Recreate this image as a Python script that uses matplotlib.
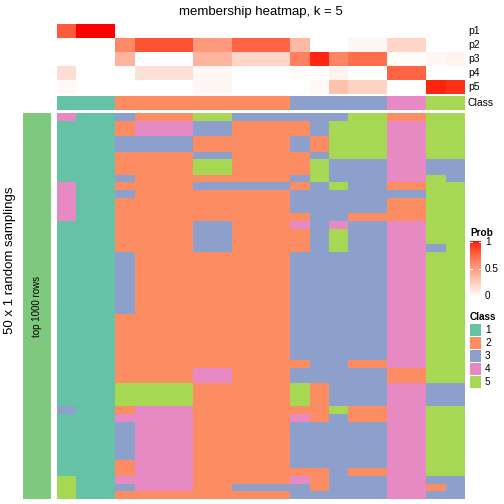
import numpy as np
import matplotlib
matplotlib.use("Agg")
import matplotlib.pyplot as plt
from matplotlib.colors import ListedColormap
from matplotlib.patches import Rectangle

plt.rcParams['font.family'] = ['Liberation Sans', 'DejaVu Sans']

title = "membership heatmap, k = 5"
row_title = "50 x 1 random samplings"
slice_title = "top 1000 rows"
prob_names = ["p1", "p2", "p3", "p4", "p5"]

# membership probability of each column (21 columns)
p1 = [0.80, 1.00, 1.00, 0, 0, 0, 0, 0, 0, 0, 0, 0, 0, 0, 0, 0, 0, 0, 0, 0, 0]
p2 = [0, 0, 0, 0.60, 0.83, 0.83, 0.83, 0.52, 0.52, 0.76, 0.76, 0.76,
      0.36, 0, 0, 0.05, 0.05, 0.22, 0.22, 0, 0]
p3 = [0, 0, 0, 0.39, 0, 0, 0, 0.39, 0.39, 0.22, 0.22, 0.22,
      0.64, 0.95, 0.62, 0.72, 0.72, 0.02, 0.02, 0.04, 0.06]
p4 = [0.17, 0, 0, 0, 0.16, 0.16, 0.16, 0.04, 0.04, 0, 0, 0,
      0.015, 0, 0.06, 0, 0, 0.76, 0.76, 0, 0]
p5 = [0.03, 0, 0, 0, 0, 0, 0, 0.04, 0.04, 0, 0, 0,
      0, 0.03, 0.32, 0.23, 0.23, 0, 0, 0.96, 0.93]
col_class = [1, 1, 1, 2, 2, 2, 2, 2, 2, 2, 2, 2, 3, 3, 3, 3, 3, 4, 4, 5, 5]

# class assigned in each of the 50 samplings (rows) for each column
samplings = [
    "411322255333333552255",
    "111244433222235554455",
    "111244433222235554455",
    "111333322222325554455",
    "111333322222325554455",
    "111222233222235554455",
    "111222255222253334433",
    "111222255222253334433",
    "111322222222353334453",
    "411222233333235332255",
    "411322222222333333355",
    "411222222222333332255",
    "411222222222333332255",
    "411222222222233222255",
    "111222233222434334455",
    "111222233222235334455",
    "111222233222235334455",
    "111222233222235334435",
    "111322222222333334455",
    "111322222222333334455",
    "111322222222333334455",
    "111322222222333334455",
    "111322222222333334455",
    "111322222222333334455",
    "111322222222333334455",
    "111322222222333334455",
    "111222222222333334455",
    "111222222222333334455",
    "111222222222333334455",
    "111222222222333334455",
    "111222222222333334455",
    "111222222222333334455",
    "111222222222233224455",
    "111222244222333332255",
    "111222244222333332255",
    "111555522222523334433",
    "111555522222523334433",
    "111555522222523334433",
    "311244422222225224455",
    "111444422222423224455",
    "111344422222333334455",
    "111344422222333334455",
    "111344422222333334455",
    "111344422222333334455",
    "111344422222333334455",
    "111244422222333334455",
    "111244422222223224455",
    "511444422222423334433",
    "511344422333323334423",
    "511222222222333334433",
]

class_colors = ["#66C2A5", "#FC8D62", "#8DA0CB", "#E78AC3", "#A6D854"]
slice_color = "#7FC97F"

# white -> red ramp interpolated in LAB space
M = np.array([[0.4124, 0.3576, 0.1805],
              [0.2126, 0.7152, 0.0722],
              [0.0193, 0.1192, 0.9505]])
WP = np.array([0.95047, 1.0, 1.08883])


def to_lab(rgb):
    c = np.asarray(rgb, float)
    lin = np.where(c <= 0.04045, c / 12.92, ((c + 0.055) / 1.055) ** 2.4)
    xyz = lin @ M.T / WP
    f = np.where(xyz > 0.008856, np.cbrt(xyz), 7.787 * xyz + 16 / 116)
    return np.array([116 * f[1] - 16, 500 * (f[0] - f[1]), 200 * (f[1] - f[2])])


def from_lab(lab):
    fy = (lab[:, 0] + 16) / 116
    f = np.stack([fy + lab[:, 1] / 500, fy, fy - lab[:, 2] / 200], -1)
    xyz = np.where(f ** 3 > 0.008856, f ** 3, (f - 16 / 116) / 7.787) * WP
    lin = np.clip(xyz @ np.linalg.inv(M).T, 0, 1)
    c = np.where(lin <= 0.0031308, 12.92 * lin, 1.055 * lin ** (1 / 2.4) - 0.055)
    return np.clip(c, 0, 1)


t = np.linspace(0, 1, 256)[:, None]
prob_cmap = ListedColormap(from_lab((1 - t) * to_lab([1, 1, 1]) + t * to_lab([1, 0, 0])))
class_cmap = ListedColormap(class_colors)

W, H = 504, 504
fig = plt.figure(figsize=(W / 100, H / 100), dpi=100)


def px_axes(x0, y0, x1, y1):
    ax = fig.add_axes([x0 / W, 1 - y1 / H, (x1 - x0) / W, (y1 - y0) / H])
    ax.set_axis_off()
    return ax


# top annotation: probabilities
ax_p = px_axes(57, 24, 465, 94)
ax_p.imshow(np.array([p1, p2, p3, p4, p5]), cmap=prob_cmap, vmin=0, vmax=1,
            aspect='auto', interpolation='nearest')
for i, name in enumerate(prob_names):
    fig.text(468 / W, 1 - (31 + 14 * i) / H, name, fontsize=7.5, va='center', ha='left')

ax_c = px_axes(57, 96, 465, 110)
ax_c.imshow(np.array([col_class]) - 1, cmap=class_cmap, vmin=-0.5, vmax=4.5,
            aspect='auto', interpolation='nearest')
fig.text(468 / W, 1 - 103 / H, "Class", fontsize=7.5, va='center', ha='left')

# main body
mat = np.array([[int(ch) for ch in row] for row in samplings])
ax_m = px_axes(57, 113, 465, 499)
ax_m.imshow(mat - 1, cmap=class_cmap, vmin=-0.5, vmax=4.5,
            aspect='auto', interpolation='nearest')

# row slice bar
ax_s = px_axes(23, 113, 51, 499)
ax_s.add_patch(Rectangle((0, 0), 1, 1, color=slice_color))
ax_s.set_xlim(0, 1)
ax_s.set_ylim(0, 1)
ax_s.text(0.5, 0.5, slice_title, rotation=90, ha='center', va='center', fontsize=7)

fig.text(10 / W, 1 - 260 / H, row_title, rotation=90, ha='center', va='center', fontsize=9.5)
fig.text(261 / W, 1 - 12 / H, title, ha='center', va='center', fontsize=9.5)

# legend: Prob
fig.text(470 / W, 1 - 233 / H, "Prob", fontsize=7.2, fontweight='bold', va='center', ha='left')
ax_l = px_axes(470, 241, 481, 297)
ax_l.imshow(np.linspace(1, 0, 200)[:, None], cmap=prob_cmap, vmin=0, vmax=1,
            aspect='auto', extent=(0, 1, 0, 1))
ax_l.set_xlim(0, 1)
ax_l.set_ylim(0, 1)
for v, lab in [(1, "1"), (0.5, "0.5"), (0, "0")]:
    yv = 0.985 if v == 1 else (0.015 if v == 0 else v)
    ax_l.plot([0, 0.2], [yv, yv], color='white', lw=0.8)
    ax_l.plot([0.8, 1], [yv, yv], color='white', lw=0.8)
    fig.text(485 / W, 1 - (297 - 56 * yv) / H, lab, fontsize=7.2, va='center', ha='left')

# legend: Class
fig.text(470 / W, 1 - 317 / H, "Class", fontsize=7.2, fontweight='bold', va='center', ha='left')
for i, col in enumerate(class_colors):
    y0 = 324 + 13 * i
    ax_k = px_axes(470, y0, 481, y0 + 11.5)
    ax_k.add_patch(Rectangle((0, 0), 1, 1, color=col))
    ax_k.set_xlim(0, 1)
    ax_k.set_ylim(0, 1)
    fig.text(485 / W, 1 - (y0 + 5.75) / H, str(i + 1), fontsize=7.2, va='center', ha='left')

fig.savefig("out.png", dpi=100)
